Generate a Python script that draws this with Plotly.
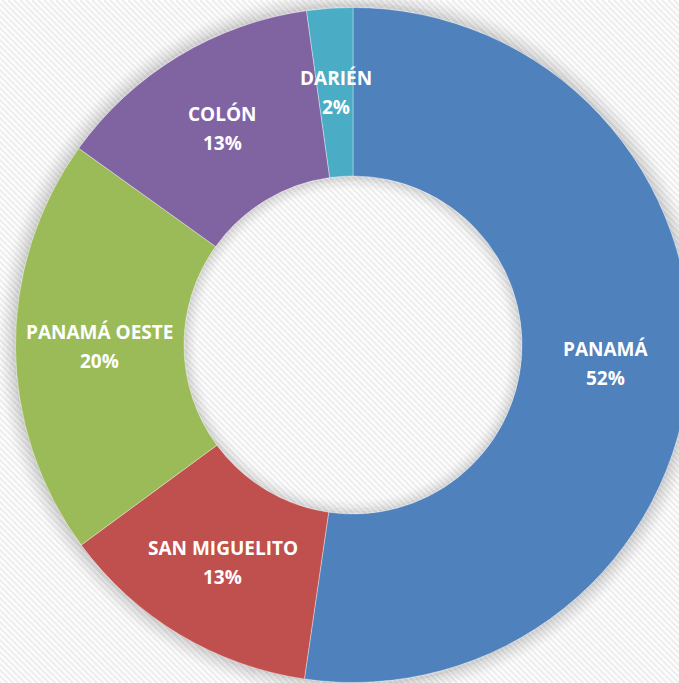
import math
import plotly.graph_objects as go

# Data
labels = ["PANAMÁ", "SAN MIGUELITO", "PANAMÁ OESTE", "COLÓN", "DARIÉN"]
values = [52.3, 12.6, 20.0, 12.9, 2.2]
colors = ["#4F81BD", "#C0504D", "#9BBB59", "#8064A2", "#4BACC6"]

W, H = 700, 700
CX, CY, R, RH = 353, 345, 337.5, 169

def px(x):
    return x / W

def py(y):
    return 1 - y / H

fig = go.Figure()
fig.add_trace(go.Pie(
    labels=labels, values=values, sort=False, direction="clockwise", rotation=0,
    hole=RH / R,
    marker=dict(colors=colors, line=dict(color="rgba(255,255,255,0.35)", width=1)),
    textinfo="none",
    domain=dict(x=[px(CX - R), px(CX + R)], y=[py(CY + R), py(CY - R)]),
    showlegend=False, hoverinfo="label+percent",
))

# labels placed at the radial middle of each slice (derived from the values)
total = sum(values)
rm = (R + RH) / 2
annotations = []
cum = 0.0
font = dict(family="Open Sans", size=19, color="white", weight="bold")
for lab, v in zip(labels, values):
    mid = (cum + v / 2) / total
    cum += v
    th = 2 * math.pi * mid
    x = CX + rm * math.sin(th)
    y = CY - rm * math.cos(th)
    annotations.append(dict(x=px(x), y=py(y), xref="paper", yref="paper", text=lab,
                            showarrow=False, font=font, yshift=14.5,
                            xanchor="center", yanchor="middle"))
    annotations.append(dict(x=px(x), y=py(y), xref="paper", yref="paper",
                            text=f"{round(v / total * 100)}%",
                            showarrow=False, font=font, yshift=-14.5,
                            xanchor="center", yanchor="middle"))

shapes = []
# diagonal stripe background
segs = []
step = 6
x = -H
while x < W + step:
    segs.append(f"M{px(x):.5f},{py(0):.5f} L{px(x + H):.5f},{py(H):.5f}")
    x += step
shapes.append(dict(type="path", xref="paper", yref="paper", path=" ".join(segs),
                   line=dict(color="#efefef", width=2.5), layer="below"))
# outer glow
n = 16
for i in range(n):
    r = R + 0.5 + i * 1.2
    a = 0.13 * (1 - i / n) ** 1.5
    shapes.append(dict(type="circle", xref="paper", yref="paper",
                       x0=px(CX - r), x1=px(CX + r), y0=py(CY + r), y1=py(CY - r),
                       line=dict(color=f"rgba(0,0,0,{a:.3f})", width=1.6), layer="below"))
# inner hole shadow
n2 = 12
for i in range(n2):
    r = RH - 0.5 - i * 1.2
    a = 0.11 * (1 - i / n2) ** 1.5
    shapes.append(dict(type="circle", xref="paper", yref="paper",
                       x0=px(CX - r), x1=px(CX + r), y0=py(CY + r), y1=py(CY - r),
                       line=dict(color=f"rgba(0,0,0,{a:.3f})", width=1.6), layer="below"))

fig.update_layout(
    width=W, height=H,
    margin=dict(l=0, r=0, t=0, b=0),
    paper_bgcolor="white", plot_bgcolor="white",
    shapes=shapes, annotations=annotations,
)

fig.write_html("out.html", config={"displayModeBar": False},
               post_script="document.body.style.margin='0';document.body.style.overflow='hidden';")
